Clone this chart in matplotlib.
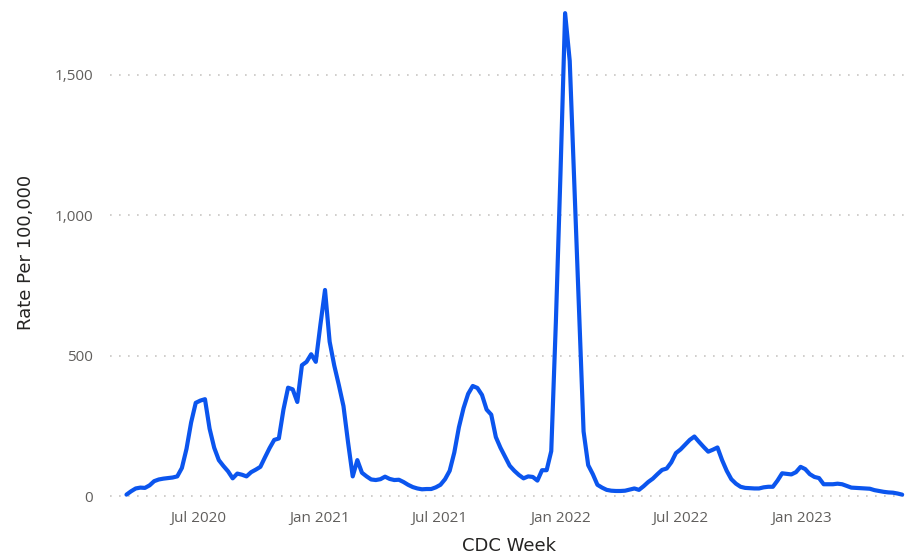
import pandas as pd
import matplotlib
matplotlib.use("Agg")
import matplotlib.pyplot as plt
import matplotlib.dates as mdates
from matplotlib.ticker import FuncFormatter

# weekly rate per 100,000 (CDC weeks)
first_week = "2020-03-14"
rate = [
    5, 17, 27, 30, 29, 38, 53, 59, 62, 64,
    66, 70, 100, 168, 262, 332, 340, 345, 240, 172,
    128, 107, 88, 63, 80, 76, 70, 85, 94, 104,
    138, 171, 200, 205, 308, 386, 380, 335, 466, 478,
    505, 478, 610, 734, 550, 465, 395, 320, 190, 70,
    128, 83, 70, 59, 57, 60, 69, 61, 57, 58,
    50, 40, 32, 27, 24, 25, 25, 31, 40, 60,
    90, 155, 245, 313, 364, 392, 385, 360, 308, 290,
    210, 172, 140, 108, 90, 75, 63, 70, 68, 55,
    92, 92, 160, 620, 1150, 1720, 1550, 1110, 670, 230,
    110, 78, 40, 30, 22, 19, 18, 18, 19, 23,
    27, 22, 35, 50, 62, 78, 93, 98, 120, 153,
    166, 183, 200, 212, 193, 175, 158, 165, 173, 128,
    90, 60, 44, 33, 29, 28, 27, 27, 31, 33,
    33, 55, 81, 79, 77, 85, 104, 96, 78, 68,
    64, 42, 42, 42, 44, 42, 36, 30, 29, 28,
    27, 26, 21, 18, 15, 13, 12, 9, 5,
]
tick_dates = ["2020-07-01", "2021-01-01", "2021-07-01", "2022-01-01", "2022-07-01", "2023-01-01"]
y_ticks = [0, 500, 1000, 1500]

weeks = pd.date_range(first_week, periods=len(rate), freq="7D")

fig = plt.figure(figsize=(9.09, 5.58), dpi=100)
ax = fig.add_axes([0.121, 0.104, 0.878, 0.887])

ax.plot(weeks, rate, color="#0B55EE", linewidth=3.0, solid_joinstyle="round", solid_capstyle="round")

ax.set_xlim(pd.Timestamp("2020-02-18"), pd.Timestamp("2023-06-12"))
ax.set_ylim(-14, 1749)

ax.set_yticks(y_ticks)
ax.yaxis.set_major_formatter(FuncFormatter(lambda v, p: f"{int(v):,}"))
ax.set_xticks(pd.to_datetime(tick_dates))
ax.xaxis.set_major_formatter(mdates.DateFormatter("%b %Y"))

ax.grid(axis="y", color="#C8C6C4", linewidth=1.2, linestyle=(0, (1, 4.4)))
ax.grid(axis="x", visible=False)
ax.set_axisbelow(True)
for s in ax.spines.values():
    s.set_visible(False)

ax.tick_params(axis="both", length=0, labelsize=11, labelcolor="#605E5C")
ax.tick_params(axis="y", pad=12)
ax.tick_params(axis="x", pad=8)
for lab in ax.get_xticklabels() + ax.get_yticklabels():
    lab.set_family("Open Sans")

ax.set_xlabel("CDC Week", fontsize=13, color="#252423", labelpad=8)
ax.set_ylabel("Rate Per 100,000", fontsize=13, color="#252423", labelpad=14)

fig.savefig("out.png", dpi=100)
